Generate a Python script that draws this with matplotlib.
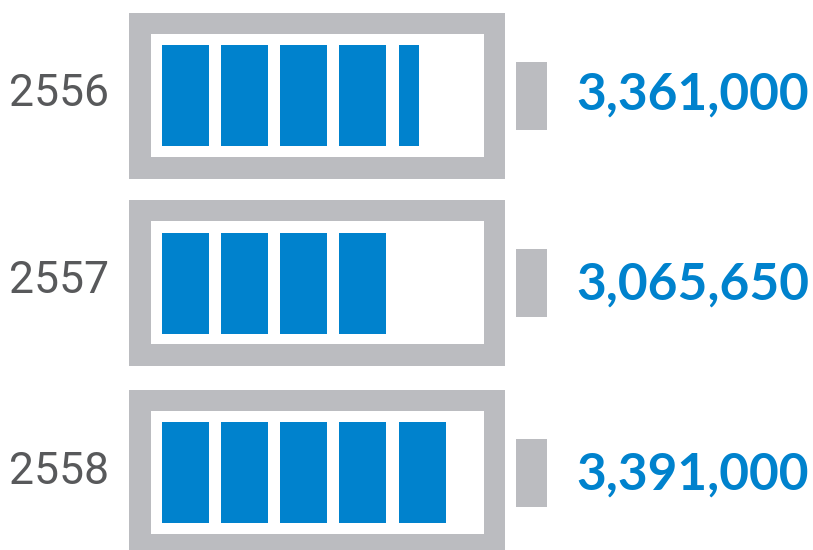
'''battery style infographic, one battery per year with the amount beside it'''

import matplotlib
matplotlib.use('Agg')
import matplotlib.pyplot as plt
from matplotlib.patches import Rectangle

years = ['2556', '2557', '2558']
amounts = ['3,361,000', '3,065,650', '3,391,000']
# how many blocks are lit in each battery
charge = [4.43, 4.0, 5.0]

GREY = '#BBBCC0'
BLUE = '#0082CD'
TEXT = '#58595B'

# layout in pixels
tops = [13, 200, 390]
block_tops = [45, 233, 422]
block_lefts = [162, 221, 280, 339, 399]
year_base = [106, 293, 484]
amount_base = [110, 300, 490]
block_w = 47


def rect(ax, x, y, w, h, color):
    ax.add_patch(Rectangle((x, y), w, h, facecolor=color, edgecolor='none'))


def draw_battery(ax, top, block_top, lit):
    rect(ax, 129, top, 376, 166, GREY)
    rect(ax, 151, top + 21, 333, 123, 'white')
    # terminal on the right
    rect(ax, 516, top + 49, 31, 68, GREY)
    # blocks, the last one can be partly filled
    i = 0
    while i < lit:
        w = block_w * min(1, lit - i)
        rect(ax, block_lefts[i], block_top, w, 101, BLUE)
        i += 1


if __name__ == '__main__':
    fig = plt.figure(figsize=(8.13, 5.5), dpi=100)
    ax = fig.add_axes([0, 0, 1, 1])
    ax.set_xlim(0, 813)
    ax.set_ylim(550, 0)
    ax.axis('off')
    for i in range(len(years)):
        draw_battery(ax, tops[i], block_tops[i], charge[i])
        ax.text(109, year_base[i], years[i], fontsize=32, color=TEXT,
                family=['Roboto', 'DejaVu Sans'], ha='right', va='baseline')
        ax.text(809, amount_base[i], amounts[i], fontsize=37, color=BLUE, fontweight='bold',
                family=['Lato', 'DejaVu Sans'], ha='right', va='baseline')
    fig.savefig('out.png', dpi=100)
